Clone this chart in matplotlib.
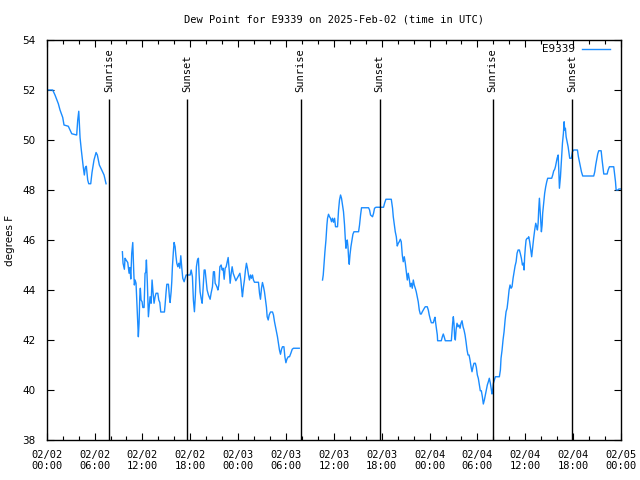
import matplotlib
matplotlib.use("Agg")
import matplotlib.pyplot as plt
import matplotlib.dates as mdates
import pandas as pd
import numpy as np

START = pd.Timestamp("2025-02-02 00:00")

# hours since 2025-02-02 00:00 UTC and dew point (F)
seg1_hours = [0.00, 0.75, 1.04, 1.46, 1.67, 2.01, 2.17, 2.71, 3.14, 3.76, 3.89, 4.02, 4.18,
              4.34, 4.59, 4.72, 4.84, 4.97, 5.14, 5.27, 5.52, 5.68, 5.93, 6.19, 6.35, 6.60,
              6.90, 7.19, 7.44]
seg1_dew = [52.0, 52.0, 51.8, 51.45, 51.2, 50.9, 50.6, 50.55, 50.25, 50.2, 50.8, 51.15, 50.1,
            49.6, 48.9, 48.6, 48.9, 48.95, 48.4, 48.25, 48.25, 48.7, 49.2, 49.5, 49.4, 49.0,
            48.8, 48.6, 48.25]

seg2_hours = [9.49, 9.57, 9.74, 9.82, 9.95, 10.16, 10.33, 10.45, 10.54, 10.66,
              10.79, 10.92, 10.99, 11.08, 11.20, 11.33, 11.42, 11.49, 11.58, 11.67,
              11.74, 11.83, 11.96, 12.05, 12.21, 12.33, 12.42, 12.50, 12.62, 12.75,
              12.84, 12.96, 13.09, 13.21, 13.34, 13.46, 13.59, 13.71, 13.93, 14.05,
              14.18, 14.30, 14.76, 14.84, 14.97, 15.06, 15.26, 15.38, 15.47, 15.60,
              15.68, 15.76, 15.88, 15.97, 16.10, 16.19, 16.31, 16.44, 16.56, 16.69,
              16.81, 16.94, 17.06, 17.23, 17.35, 17.48, 17.98, 18.11, 18.27, 18.39,
              18.52, 18.64, 18.77, 18.90, 19.02, 19.11, 19.23, 19.36, 19.49, 19.61,
              19.74,
              19.86, 19.99, 20.11, 20.28, 20.49, 20.61, 20.78, 20.90, 21.03, 21.12,
              21.24, 21.37, 21.46, 21.58, 21.71, 21.87, 22.00, 22.12, 22.25, 22.37,
              22.50, 22.63, 22.75, 22.88, 23.00, 23.13, 23.25, 23.38, 23.54, 23.71,
              23.88, 24.04, 24.22, 24.34, 24.47, 24.54, 24.67, 24.79, 24.92, 25.04,
              25.17, 25.30, 25.42, 25.55, 25.67, 25.80, 25.92, 26.05, 26.55, 26.68,
              26.80, 26.93, 27.05, 27.18, 27.30, 27.43, 27.55, 27.64, 27.77, 27.89,
              28.06, 28.31, 28.43, 28.56, 28.68, 28.81, 28.93, 29.06, 29.18, 29.31,
              29.44, 29.56, 29.74, 29.86, 29.99, 30.11, 30.28, 30.44, 30.61, 30.78,
              30.94, 31.66]
seg2_dew = [45.53, 45.07, 44.83, 45.27, 45.2, 45.1, 44.67, 44.9, 44.44, 45.47,
            45.9, 44.67, 44.2, 44.4, 44.27, 43.33, 42.67, 42.13, 42.67, 43.73,
            44.07, 43.6, 43.53, 43.3, 43.3, 44.67, 44.7, 45.2, 44.27, 42.93,
            43.27, 43.73, 43.47, 44.4, 43.87, 43.47, 43.73, 43.87, 43.87, 43.6,
            43.5, 43.12, 43.12, 43.4, 43.93, 44.23, 44.23, 43.73, 43.5, 43.93,
            44.33, 44.93, 45.53, 45.9, 45.73, 45.4, 45.07, 44.93, 45.07, 44.87,
            45.37, 44.87, 44.47, 44.33, 44.47, 44.6, 44.6, 44.8, 44.53, 43.6,
            43.13, 43.8, 44.93, 45.2, 45.27, 44.6, 43.93, 43.67, 43.47, 44.07,
            44.8,
            44.8, 44.4, 44.0, 43.8, 43.63, 43.87, 44.13, 44.73, 44.73, 44.27,
            44.2, 44.1, 44.0, 44.2, 44.93, 45.0, 44.8, 44.87, 44.43, 44.87,
            44.93, 45.13, 45.3, 44.8, 44.27, 44.67, 44.93, 44.67, 44.53, 44.37,
            44.47, 44.56, 44.67, 44.4, 43.93, 43.73, 44.13, 44.4, 44.8, 45.07,
            44.87, 44.6, 44.4, 44.6, 44.47, 44.6, 44.4, 44.31, 44.31, 43.87,
            43.63, 44.07, 44.3, 44.13, 43.93, 43.6, 43.31, 42.93, 42.8, 43.0,
            43.12, 43.12, 43.0, 42.73, 42.53, 42.33, 42.13, 41.84, 41.6, 41.43,
            41.63, 41.73, 41.73, 41.33, 41.09, 41.23, 41.33, 41.33, 41.47, 41.63,
            41.67, 41.67]

seg3_hours = [34.58, 34.67, 34.76, 34.88, 35.01, 35.13, 35.21, 35.33, 35.46, 35.58,
              35.71, 35.83, 35.96, 36.09, 36.21, 36.46, 36.59, 36.71, 36.84, 36.96,
              37.09, 37.21, 37.34, 37.43, 37.52, 37.59, 37.68, 37.77, 37.84, 37.93,
              38.02, 38.14, 38.27, 38.39, 38.52, 39.10, 39.22, 39.35, 39.47, 40.35,
              40.48, 40.60, 40.85, 40.98, 41.10, 41.28, 42.23, 42.36, 42.53, 43.20,
              43.36, 43.45, 43.58,
              43.70, 43.83, 43.95, 44.08, 44.20, 44.33, 44.45, 44.58, 44.70, 44.83,
              44.96, 45.08, 45.21, 45.33, 45.46, 45.58, 45.71, 45.83, 45.96, 46.08,
              46.21, 46.33, 46.46, 46.58, 46.71, 46.84, 46.96, 47.09, 47.21, 47.34,
              47.46, 47.71, 47.84, 47.96, 48.09, 48.22, 48.47, 48.59, 48.68, 48.76,
              48.88, 48.97, 49.01, 49.47, 49.60, 49.72, 49.85, 49.97, 50.73, 50.82,
              50.89, 50.98, 51.06, 51.14, 51.23, 51.32, 51.44, 51.57, 51.69, 51.82,
              51.94, 52.07, 52.20, 52.32, 52.45, 52.57, 52.70, 52.82, 52.95, 53.07,
              53.20, 53.32, 53.45, 53.57, 53.74, 53.86, 53.99, 54.11, 54.24, 54.36,
              54.49, 54.62, 54.74, 54.87, 54.99, 55.12, 55.24, 55.37, 55.49, 55.62,
              55.75, 55.83,
              55.91, 56.00, 56.12, 56.25, 56.75, 56.88, 56.96, 57.09, 57.21, 57.34,
              57.47, 57.59, 57.72, 57.84, 57.97, 58.09, 58.22, 58.34, 58.47, 58.60,
              58.72, 58.85, 58.97, 59.10, 59.26, 59.39, 59.51, 59.64, 59.76, 59.85,
              59.92, 60.01, 60.10, 60.23, 60.35, 60.43, 60.55, 60.68, 60.80, 60.93,
              61.05, 61.18, 61.31, 61.43, 61.52, 61.61, 61.68, 61.77, 61.86, 61.93,
              62.02, 62.11, 62.18, 62.31, 62.43, 62.56, 62.69, 62.81, 63.31, 63.44,
              63.56, 63.69,
              63.78, 63.99, 64.12, 64.20, 64.28, 64.41, 64.53, 64.66, 64.78, 64.87,
              64.94, 65.03, 65.12, 65.24, 65.37, 65.49, 65.57, 65.78, 65.91, 66.07,
              66.54, 66.66, 66.79, 66.91, 67.04, 67.20, 68.58, 68.71, 68.83, 68.96,
              69.08, 69.21, 69.51, 69.63, 69.76, 69.84, 70.26, 70.39, 70.55, 71.09,
              71.18, 71.31, 71.39, 71.64, 71.72, 71.93]
seg3_dew = [44.4, 44.6, 45.0, 45.53, 46.0, 46.6, 46.87, 47.03, 46.93, 46.87,
            46.73, 46.87, 46.71, 46.87, 46.53, 46.53, 47.2, 47.6, 47.8, 47.67,
            47.4, 47.13, 46.6, 46.07, 45.67, 45.87, 46.0, 45.73, 45.33, 45.03,
            45.4, 45.73, 46.0, 46.23, 46.33, 46.33, 46.6, 47.0, 47.29, 47.29,
            47.2, 47.0, 46.93, 47.07, 47.27, 47.31, 47.31, 47.47, 47.63, 47.63,
            47.27, 46.93, 46.6,
            46.33, 46.13, 45.76, 45.87, 45.93, 46.03, 45.93, 45.4, 45.13, 45.33,
            45.07, 44.73, 44.4, 44.67, 44.43, 44.13, 44.27, 44.07, 44.4, 44.2,
            44.07, 43.93, 43.73, 43.53, 43.2, 43.04, 43.04, 43.13, 43.2, 43.27,
            43.33, 43.33, 43.2, 43.0, 42.83, 42.69, 42.69, 42.83, 42.91, 42.69,
            42.4, 42.2, 41.97, 41.97, 42.13, 42.24, 42.11, 41.97, 41.97, 42.4,
            42.67, 42.93, 42.67, 42.13, 42.0, 42.4, 42.67, 42.53, 42.6, 42.47,
            42.67, 42.77, 42.53, 42.4, 42.2, 41.93, 41.6, 41.4, 41.4, 41.2,
            40.93, 40.73, 40.93, 41.07, 41.07, 40.91, 40.6, 40.47, 40.2, 39.97,
            39.97, 39.73, 39.44, 39.6, 39.8, 40.0, 40.2, 40.33, 40.47, 40.27,
            40.0, 39.84,
            40.0, 40.27, 40.4, 40.53, 40.53, 40.8, 41.27, 41.6, 42.0, 42.33,
            42.8, 43.13, 43.27, 43.6, 44.0, 44.2, 44.07, 44.13, 44.47, 44.73,
            44.96, 45.13, 45.47, 45.6, 45.6, 45.44, 45.27, 45.0, 45.07, 44.8,
            45.33, 45.71, 46.0, 46.07, 46.07, 46.13, 45.93, 45.6, 45.33, 45.73,
            46.07, 46.4, 46.67, 46.53, 46.4, 46.67, 47.2, 47.67, 47.2, 46.8,
            46.33, 46.6, 47.07, 47.47, 47.87, 48.13, 48.33, 48.47, 48.47, 48.6,
            48.76, 48.83,
            48.93, 49.27, 49.4, 48.8, 48.07, 48.53, 49.2, 49.87, 50.27, 50.73,
            50.4, 50.47, 50.13, 49.93, 49.73, 49.47, 49.27, 49.27, 49.53, 49.6,
            49.6, 49.33, 49.13, 48.93, 48.73, 48.56, 48.56, 48.73, 49.0, 49.23,
            49.44, 49.57, 49.57, 49.2, 48.87, 48.64, 48.64, 48.8, 48.93, 48.93,
            48.67, 48.33, 48.0, 48.0, 48.04, 48.04]

sun_times = ["2025-02-02 07:51", "2025-02-02 17:38", "2025-02-03 07:50",
             "2025-02-03 17:44", "2025-02-04 07:54", "2025-02-04 17:52"]
sun_labels = ["Sunrise", "Sunset", "Sunrise", "Sunset", "Sunrise", "Sunset"]

y_ticks = [38, 40, 42, 44, 46, 48, 50, 52, 54]

MONO = "DejaVu Sans Mono"
SANS = "DejaVu Sans"
LINE_COLOR = "#1a8cff"

fig = plt.figure(figsize=(6.4, 4.8), dpi=100)
ax = fig.add_axes([46.7 / 640, 40 / 480, (621 - 46.7) / 640, 400 / 480])


def to_dt(hours):
    return START + pd.to_timedelta(np.asarray(hours), unit="h")


for i, (h, v) in enumerate([(seg1_hours, seg1_dew), (seg2_hours, seg2_dew), (seg3_hours, seg3_dew)]):
    ax.plot(to_dt(h), v, color=LINE_COLOR, lw=1.0, label="E9339" if i == 0 else None)

for t, lab in zip(sun_times, sun_labels):
    ts = pd.Timestamp(t)
    ax.vlines(ts, 38, 51.64, color="black", lw=1.0)
    ax.text(ts, 51.92, lab, rotation=90, ha="center", va="bottom",
            family=MONO, fontsize=7.5, color="black")

ax.set_xlim(START, START + pd.Timedelta(hours=72))
ax.set_ylim(38, 54)
ax.set_yticks(y_ticks)
ax.set_yticklabels([str(v) for v in y_ticks], family=SANS, fontsize=7.5)

ax.xaxis.set_major_locator(mdates.HourLocator(byhour=[0, 6, 12, 18]))
ax.xaxis.set_major_formatter(mdates.DateFormatter("%m/%d\n%H:%M"))
ax.xaxis.set_minor_locator(mdates.HourLocator(byhour=range(0, 24, 2)))
for lab in ax.get_xticklabels():
    lab.set_family(MONO)
    lab.set_fontsize(7.5)

ax.tick_params(axis="both", which="major", direction="in", length=5, width=0.8,
               top=True, right=True, colors="black")
ax.tick_params(axis="x", which="minor", direction="in", length=3, width=0.8,
               top=True, bottom=True)
ax.tick_params(axis="x", which="major", pad=7)
ax.tick_params(axis="y", which="major", pad=8)
for s in ax.spines.values():
    s.set_linewidth(1.0)
    s.set_color("black")

fig.text(10 / 640, 1 - 240 / 480, "degrees F", rotation=90, ha="center", va="center",
         family=SANS, fontsize=7.5)
fig.text(0.5 * (46.7 + 621) / 640, 1 - 19 / 480,
         "Dew Point for E9339 on 2025-Feb-02 (time in UTC)", ha="center", va="center",
         family=MONO, fontsize=7.5)

leg = ax.legend(loc="upper right", bbox_to_anchor=(0.988, 1.0), frameon=False,
                markerfirst=False, handlelength=2.7, handletextpad=0.7,
                borderaxespad=0.0, prop={"family": SANS, "size": 7.5})

fig.savefig("out.png", dpi=100)
